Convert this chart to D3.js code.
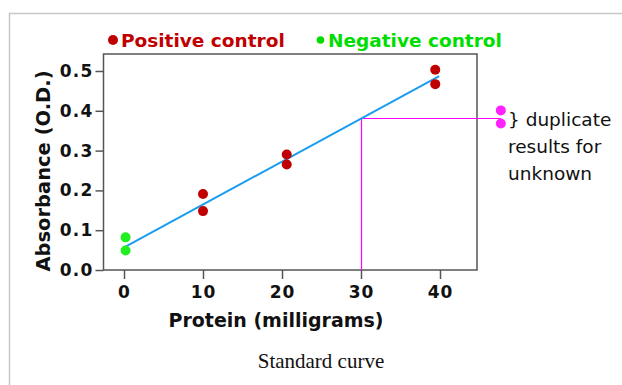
<!DOCTYPE html>
<html><head><meta charset="utf-8">
<script src="https://cdn.jsdelivr.net/npm/d3@7"></script>
<style>body{margin:0;background:#fff}svg{display:block}</style>
</head><body>
<script>
const positiveX = [10, 10, 20.6, 20.6, 39.4, 39.4];
const positiveY = [0.191, 0.148, 0.290, 0.265, 0.503, 0.467];
const negativeX = [0.2, 0.2];
const negativeY = [0.082, 0.049];
const unknownX = [47.7, 47.7];
const unknownY = [0.401, 0.368];
const fitLine = [[0.2, 0.059], [39.9, 0.487]];
const unknownReading = {x: 30, y: 0.383, xEnd: 47.7};
const xTicks = [0, 10, 20, 30, 40];
const yTicks = [0.0, 0.1, 0.2, 0.3, 0.4, 0.5];
const legendItems = [{label: "Positive control", color: "#c00000"}, {label: "Negative control", color: "#00dd00"}];
const noteLines = ["} duplicate", "results for", "unknown"];

const W = 622, H = 385;
const svg = d3.select("body").append("svg").attr("width", W).attr("height", H);

// outer frame
svg.append("path").attr("d", `M9.5,${H} V13.5 H${W}`).attr("fill", "none").attr("stroke", "#c8c8c8").attr("stroke-width", 1.5);

const x = d3.scaleLinear().domain([0, 40]).range([124, 440]);
const y = d3.scaleLinear().domain([0, 0.5]).range([270, 71]);
const pL = 103.5, pR = 477, pT = 54, pB = 270;
const axisColor = "#555";
const boldFont = "'DejaVu Sans', Verdana, sans-serif";

// box
svg.append("rect").attr("x", pL).attr("y", pT).attr("width", pR - pL).attr("height", pB - pT)
  .attr("fill", "none").attr("stroke", axisColor).attr("stroke-width", 1.5);

// y axis
const yAxis = svg.append("g").attr("transform", `translate(${pL},0)`)
  .call(d3.axisLeft(y).tickValues(yTicks).tickFormat(d3.format(".1f")).tickSize(8).tickPadding(2));
yAxis.select(".domain").remove();
yAxis.selectAll("line").attr("stroke", axisColor).attr("stroke-width", 1.5);
yAxis.selectAll("text").attr("font-family", boldFont).attr("font-weight", "bold").attr("font-size", 17)
  .attr("letter-spacing", 1.2).attr("fill", "#111");

// x axis
const xAxis = svg.append("g").attr("transform", `translate(0,${pB})`)
  .call(d3.axisBottom(x).tickValues(xTicks).tickSize(9).tickPadding(7));
xAxis.select(".domain").remove();
xAxis.selectAll("line").attr("stroke", axisColor).attr("stroke-width", 1.5);
xAxis.selectAll("text").attr("font-family", boldFont).attr("font-weight", "bold").attr("font-size", 17)
  .attr("letter-spacing", 1).attr("fill", "#111");

// axis titles
svg.append("text").attr("x", 276).attr("y", 327).attr("text-anchor", "middle")
  .attr("font-family", boldFont).attr("font-weight", "bold").attr("font-size", 19).attr("fill", "#111")
  .text("Protein (milligrams)");
svg.append("text").attr("transform", "translate(50,171) rotate(-90)").attr("text-anchor", "middle")
  .attr("font-family", boldFont).attr("font-weight", "bold").attr("font-size", 19.5).attr("fill", "#111")
  .text("Absorbance (O.D.)");

// magenta reading lines (snapped to pixel centres)
const snap = v => Math.round(v) + 0.5;
svg.append("path")
  .attr("d", `M${snap(x(unknownReading.x))},${pB} V${snap(y(unknownReading.y))} H${x(unknownReading.xEnd)}`)
  .attr("fill", "none").attr("stroke", "#ff00ff").attr("stroke-width", 1.2);

// fit line
svg.append("line")
  .attr("x1", x(fitLine[0][0])).attr("y1", y(fitLine[0][1]))
  .attr("x2", x(fitLine[1][0])).attr("y2", y(fitLine[1][1]))
  .attr("stroke", "#1a9cf0").attr("stroke-width", 2);

// points
const dots = (xs, ys, color) => svg.append("g").selectAll("circle").data(xs).join("circle")
  .attr("cx", d => x(d)).attr("cy", (d, i) => y(ys[i])).attr("r", 5).attr("fill", color);
dots(positiveX, positiveY, "#c00000");
dots(negativeX, negativeY, "#22ee22");
dots(unknownX, unknownY, "#ff22ff");

// legend
const legendDotX = [113, 320.5];
const legendDotR = [5, 3.8];
const legendTextX = [121, 328];
legendItems.forEach((item, i) => {
  svg.append("circle").attr("cx", legendDotX[i]).attr("cy", 40).attr("r", legendDotR[i]).attr("fill", item.color);
  svg.append("text").attr("x", legendTextX[i]).attr("y", 47)
    .attr("font-family", boldFont).attr("font-weight", "bold").attr("font-size", 18.5).attr("fill", item.color)
    .text(item.label);
});

// note
noteLines.forEach((t, i) => {
  svg.append("text").attr("x", 508).attr("y", 126 + i * 27)
    .attr("font-family", boldFont).attr("font-size", 18.5).attr("fill", "#111").text(t);
});

// caption
svg.append("text").attr("x", 321).attr("y", 368).attr("text-anchor", "middle")
  .attr("font-family", "'Liberation Serif', 'Times New Roman', serif").attr("font-size", 21).attr("fill", "#111")
  .text("Standard curve");
</script>
</body></html>
